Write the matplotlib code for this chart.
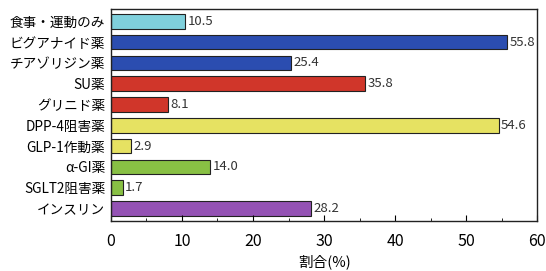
import matplotlib.pyplot as plt
from matplotlib.ticker import MultipleLocator

plt.rcParams['font.family'] = ['Noto Sans CJK JP', 'DejaVu Sans']

labels = ['食事・運動のみ', 'ビグアナイド薬', 'チアゾリジン薬', 'SU薬', 'グリニド薬',
          'DPP-4阻害薬', 'GLP-1作動薬', 'α-GI薬', 'SGLT2阻害薬', 'インスリン']
values = [10.5, 55.8, 25.4, 35.8, 8.1, 54.6, 2.9, 14.0, 1.7, 28.2]
colors = ['#7fd0dc', '#2b4db0', '#2b4db0', '#d0362a', '#d0362a',
          '#e6e262', '#e6e262', '#88c044', '#88c044', '#9452b4']

fig = plt.figure(figsize=(5.46, 2.71), dpi=100)
ax = fig.add_axes([0.203, 0.185, 0.781, 0.782])

y = list(range(len(labels)))
ax.barh(y, values, height=0.7, color=colors, edgecolor='#222222', linewidth=0.8)
for yi, v in zip(y, values):
    ax.text(v + 0.3, yi, f'{v:.1f}', va='center', ha='left', fontsize=9.5, color='#333333')

ax.set_ylim(9.6, -0.6)
ax.set_xlim(0, 60)
ax.set_yticks(y)
ax.set_yticklabels(labels, fontsize=9.8)
ax.tick_params(axis='y', length=0, pad=4)
ax.xaxis.set_major_locator(MultipleLocator(10))
ax.xaxis.set_minor_locator(MultipleLocator(5))
ax.tick_params(axis='x', which='major', direction='in', length=4, labelsize=11.5, pad=9)
ax.tick_params(axis='x', which='minor', direction='in', length=2)
ax.set_xlabel('割合(%)', fontsize=10.5, labelpad=3)
for s in ax.spines.values():
    s.set_linewidth(1.0)
    s.set_color('#222222')

fig.savefig('out.png', dpi=100)
